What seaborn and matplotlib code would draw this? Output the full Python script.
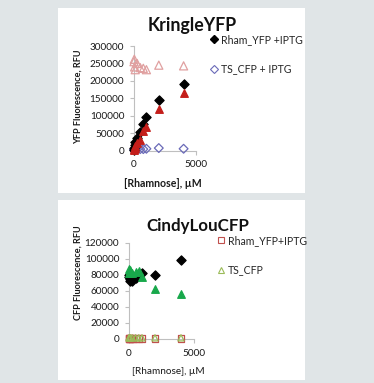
import matplotlib
matplotlib.use("Agg")
import matplotlib.pyplot as plt
from matplotlib.lines import Line2D
from matplotlib.patches import Rectangle
import seaborn as sns
import pandas as pd

sns.set_theme(style="white")
plt.rcParams['font.family'] = ['Lato', 'DejaVu Sans']

# ---- data: KringleYFP (top) ----
top_x = [0, 25, 50, 100, 250, 500, 750, 1000, 2000, 4000]
top_rham_iptg = [2000, 8000, 15000, 25000, 35000, 52000, 75000, 97000, 145000, 191000]
top_rham = [1000, 3000, 6000, 12000, 22000, 30000, 55000, 68000, 120000, 164000]
top_ts = [255000, 262000, 240000, 232000, 250000, 238000, 236000, 232000, 245000, 243000]
top_ts_iptg = [2000, 2500, 3000, 3000, 3500, 4000, 4000, 5000, 7000, 5000]

# ---- data: CindyLouCFP (bottom) ----
bot_x = [0, 25, 50, 100, 250, 500, 750, 1000, 2000, 4000]
bot_black = [78000, 80000, 75000, 72000, 73000, 76000, 80000, 82000, 80000, 99000]
bot_green = [82000, 88000, 85000, 86000, 83000, 84000, 85000, 78000, 62000, 56000]
bot_rham_iptg = [1000, 1000, 1000, 1000, 1000, 1000, 1000, 1000, 1000, 1000]
bot_ts = [1500, 1500, 1500, 1500, 1500, 1500, 1500, 1500, 1500, 1500]

W, H = 374, 383
fig = plt.figure(figsize=(W / 100, H / 100), dpi=100)
fig.patch.set_facecolor('#e0e5e7')

def fx(p):
    return p / W

def fy(p):
    return 1 - p / H

# white panels
fig.patches.append(Rectangle((fx(58), fy(193)), fx(305) - fx(58), fy(8) - fy(193),
                             transform=fig.transFigure, facecolor='white', edgecolor='none', zorder=-5))
fig.patches.append(Rectangle((fx(58), fy(380)), fx(305) - fx(58), fy(200) - fy(380),
                             transform=fig.transFigure, facecolor='white', edgecolor='none', zorder=-5))

def make_ax(l, r, t, b):
    ax = fig.add_axes([fx(l), fy(b), fx(r) - fx(l), fy(t) - fy(b)])
    ax.set_facecolor('none')
    for s in ['top', 'right']:
        ax.spines[s].set_visible(False)
    for s in ['left', 'bottom']:
        ax.spines[s].set_color('#bfbfbf')
        ax.spines[s].set_linewidth(0.8)
    ax.tick_params(axis='both', length=3, width=0.8, color='#bfbfbf', pad=4,
                   labelsize=7.2, labelcolor='#1a1a1a')
    ax.tick_params(axis='x', bottom=True)
    ax.tick_params(axis='y', left=True)
    return ax

def scat(ax, x, y, marker, fc, ec, s=24, lw=0.9, z=3):
    df = pd.DataFrame({'x': x, 'y': y})
    sns.scatterplot(data=df, x='x', y='y', ax=ax, marker=marker, s=s,
                    facecolor=fc, edgecolor=ec, linewidth=lw, clip_on=False,
                    zorder=z, legend=False)

# ---- top chart ----
ax1 = make_ax(134, 196, 46, 150.5)
scat(ax1, top_x, top_ts, '^', 'none', '#e0a0a0', s=34, lw=0.9)
scat(ax1, top_x, top_ts_iptg, 'D', 'none', '#6a6ab8', s=20, lw=0.9)
scat(ax1, top_x, top_rham_iptg, 'D', 'black', 'black', s=22)
scat(ax1, top_x, top_rham, '^', '#c41e1a', '#c41e1a', s=30)
ax1.set_xlim(0, 5000)
ax1.set_ylim(0, 300000)
ax1.set_xticks([0, 5000])
ax1.set_yticks(range(0, 300001, 50000))
ax1.set_xlabel('')
ax1.set_ylabel('')

h1 = [Line2D([], [], ls='none', marker='D', ms=3.6, mfc='black', mec='black'),
      Line2D([], [], ls='none', marker='D', ms=3.6, mfc='none', mec='#6a6ab8', mew=0.8)]
fig.legend(h1, ['Rham_YFP +IPTG', 'TS_CFP + IPTG'], loc='upper left',
           bbox_to_anchor=(fx(211), fy(34)), frameon=False, fontsize=7.6,
           handlelength=0.6, handletextpad=0.35, labelspacing=1.75,
           borderpad=0, borderaxespad=0)

fig.text(fx(192), fy(25), 'KringleYFP', ha='center', va='center',
         fontsize=12.8, fontweight='bold', color='#111111')
fig.text(fx(78), fy(97), 'YFP Fluorescence, RFU', ha='center', va='center',
         rotation=90, fontsize=6.6, fontweight='bold', color='#1a1a1a')
fig.text(fx(163), fy(183), '[Rhamnose], µM', ha='center', va='center',
         fontsize=7.6, fontweight='bold', color='#1a1a1a')

# ---- bottom chart ----
ax2 = make_ax(129, 194, 243, 339)
scat(ax2, bot_x, bot_rham_iptg, 's', 'none', '#c0504d', s=24, lw=0.9)
scat(ax2, bot_x, bot_ts, '^', 'none', '#9bbb59', s=20, lw=0.9)
scat(ax2, bot_x, bot_black, 'D', 'black', 'black', s=22)
scat(ax2, bot_x, bot_green, '^', '#18a84b', '#18a84b', s=30)
ax2.set_xlim(0, 5000)
ax2.set_ylim(0, 120000)
ax2.set_xticks([0, 5000])
ax2.set_yticks(range(0, 120001, 20000))
ax2.set_xlabel('')
ax2.set_ylabel('')

h2 = [Line2D([], [], ls='none', marker='s', ms=4.2, mfc='none', mec='#c0504d', mew=0.8),
      Line2D([], [], ls='none', marker='^', ms=4.2, mfc='none', mec='#9bbb59', mew=0.8)]
fig.legend(h2, ['Rham_YFP+IPTG', 'TS_CFP'], loc='upper left',
           bbox_to_anchor=(fx(218), fy(235)), frameon=False, fontsize=7.6,
           handlelength=0.6, handletextpad=0.35, labelspacing=1.75,
           borderpad=0, borderaxespad=0)

fig.text(fx(198), fy(226), 'CindyLouCFP', ha='center', va='center',
         fontsize=12.2, fontweight='bold', color='#111111')
fig.text(fx(78), fy(273), 'CFP Fluorescence, RFU', ha='center', va='center',
         rotation=90, fontsize=6.6, fontweight='bold', color='#1a1a1a')
fig.text(fx(168), fy(372), '[Rhamnose], µM', ha='center', va='center',
         fontsize=7.2, color='#1a1a1a')

fig.savefig('out.png', dpi=100)
